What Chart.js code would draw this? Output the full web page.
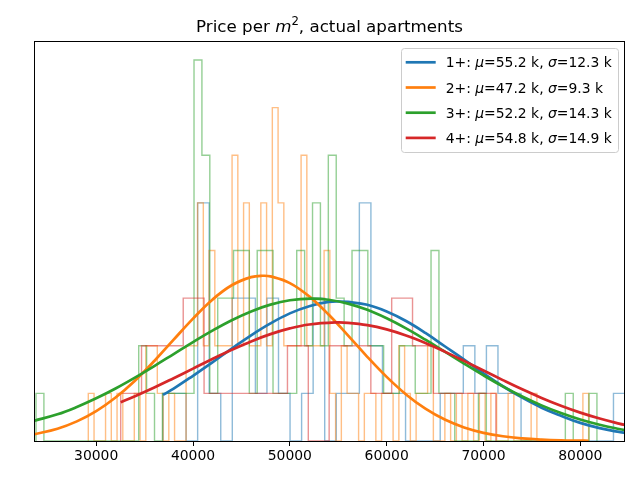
<!DOCTYPE html>
<html>
<head>
<meta charset="utf-8">
<script src="https://cdn.jsdelivr.net/npm/chart.js@4/dist/chart.umd.min.js"></script>
<style>
  html, body { margin: 0; padding: 0; background: #fff; }
</style>
</head>
<body>
<canvas id="priceChart" width="640" height="480"></canvas>
<script>
// --- data ---
const seriesNames = ['1+', '2+', '3+', '4+'];
const seriesMu = ['55.2', '47.2', '52.2', '54.8'];
const seriesSigma = ['12.3', '9.3', '14.3', '14.9'];
const seriesColors = ['#1f77b4', '#ff7f0e', '#2ca02c', '#d62728'];
const histColors = ['rgba(31,119,180,0.5)', 'rgba(255,127,14,0.5)', 'rgba(44,160,44,0.5)', 'rgba(214,39,40,0.5)'];

const xTicks = [30000, 40000, 50000, 60000, 70000, 80000];
const xMin = 23576;
const xMax = 84617;

// histograms: first bin edge, bin width, counts
const blueBinStart = 36899, blueBinWidth = 1193;
const blueCounts = [1, 1, 0, 5, 1, 0, 3, 3, 1, 3,
                    1, 0, 1, 3, 0, 1, 1, 5, 2, 1,
                    1, 0, 0, 0, 1, 1, 2, 1, 2, 1,
                    1, 0, 0, 0, 0, 0, 0, 0, 0, 1];

const orangeBinStart = 29184, orangeBinWidth = 594;
const orangeCounts = [1, 0, 0, 1, 0, 1, 0, 0, 1, 0,
                      2, 2, 1, 0, 1, 0, 0, 2, 2, 5,
                      2, 4, 2, 2, 2, 6, 2, 5, 2, 2,
                      5, 2, 7, 5, 2, 2, 2, 6, 2, 2,
                      2, 4, 1, 0, 2, 1, 1, 0, 1, 1,
                      0, 1, 1, 0, 2, 1, 0, 1, 1, 2,
                      0, 0, 1, 0, 1, 0, 1, 0, 1, 0,
                      1, 0, 0, 1, 0, 0, 0, 1, 0, 0,
                      0, 0, 0, 0, 0, 0, 1];

const greenBinStart = 23783, greenBinWidth = 816;
const greenCounts = [1, 0, 0, 0, 0, 0, 0, 0, 0, 0,
                     0, 0, 0, 2, 1, 0, 1, 1, 1, 1,
                     8, 6, 1, 3, 3, 4, 4, 1, 4, 4,
                     1, 1, 1, 4, 2, 5, 2, 6, 3, 2,
                     4, 4, 2, 2, 1, 1, 2, 2, 1, 1,
                     4, 1, 1, 0, 0, 0, 1, 0, 0, 0,
                     0, 0, 0, 0, 0, 0, 0, 1, 0, 0,
                     1];

const redBinStart = 32530, redBinWidth = 2153;
const redCounts = [1, 2, 2, 3, 1, 1, 1, 1, 2, 0, 2, 2, 1, 3, 2, 1, 1, 1];

// fitted curves, sampled along x (peak point included)
const blueCurveX = [36899, 38000, 40000, 42000, 44000, 46000, 48000, 50000, 52000, 54000, 55200, 56000, 58000, 60000,
                    62000, 64000, 66000, 68000, 70000, 72000, 74000, 76000, 78000, 80000, 82000, 84000, 85000];
const blueCurveY = [0.97, 1.10, 1.37, 1.65, 1.94, 2.22, 2.47, 2.68, 2.83, 2.92, 2.93, 2.92, 2.86, 2.72,
                    2.52, 2.27, 1.99, 1.71, 1.42, 1.15, 0.91, 0.70, 0.53, 0.38, 0.27, 0.19, 0.16];

const orangeCurveX = [23500, 26000, 28000, 30000, 32000, 34000, 36000, 38000, 40000, 42000, 44000, 46000, 47200, 48000, 50000, 52000,
                      54000, 56000, 58000, 60000, 62000, 64000, 66000, 68000, 70000, 72000, 74000, 76000, 78000, 80000, 80850];
const orangeCurveY = [0.135, 0.258, 0.412, 0.627, 0.913, 1.267, 1.680, 2.128, 2.571, 2.968, 3.270, 3.441, 3.470, 3.457, 3.316, 3.037,
                      2.656, 2.218, 1.768, 1.346, 0.978, 0.679, 0.450, 0.285, 0.172, 0.099, 0.055, 0.029, 0.014, 0.007, 0.005];

const greenCurveX = [23500, 26000, 28000, 30000, 32000, 34000, 36000, 38000, 40000, 42000, 44000, 46000, 48000, 50000, 52200,
                     54000, 56000, 58000, 60000, 62000, 64000, 66000, 68000, 70000, 72000, 74000, 76000, 78000, 80000, 82000, 84000, 85000];
const greenCurveY = [0.42, 0.56, 0.714, 0.896, 1.102, 1.330, 1.574, 1.826, 2.078, 2.318, 2.537, 2.722, 2.864, 2.955, 2.990,
                     2.966, 2.886, 2.754, 2.576, 2.364, 2.127, 1.877, 1.624, 1.378, 1.146, 0.935, 0.748, 0.587, 0.452, 0.341, 0.252, 0.215];

const redCurveX = [32530, 34000, 36000, 38000, 40000, 42000, 44000, 46000, 48000, 50000, 52000, 54800, 56000, 58000,
                   60000, 62000, 64000, 66000, 68000, 70000, 72000, 74000, 76000, 78000, 80000, 82000, 84000, 85000];
const redCurveY = [0.815, 0.940, 1.123, 1.319, 1.520, 1.722, 1.915, 2.092, 2.244, 2.364, 2.446, 2.490, 2.482, 2.433,
                   2.343, 2.216, 2.058, 1.877, 1.682, 1.480, 1.279, 1.085, 0.905, 0.741, 0.596, 0.471, 0.365, 0.319];

// --- helpers ---
// outline of a step histogram: up at the first edge, across each bin, down at the last edge
function stepOutline(start, width, counts) {
    const pts = [{ x: start, y: 0 }];
    counts.forEach((c, i) => pts.push({ x: start + i * width, y: c }));
    pts.push({ x: start + counts.length * width, y: 0 });
    return pts;
}

function zipPoints(xs, ys) {
    return xs.map((x, i) => ({ x: x, y: ys[i] }));
}

const hists = [
    stepOutline(blueBinStart, blueBinWidth, blueCounts),
    stepOutline(orangeBinStart, orangeBinWidth, orangeCounts),
    stepOutline(greenBinStart, greenBinWidth, greenCounts),
    stepOutline(redBinStart, redBinWidth, redCounts)
];
const curves = [
    zipPoints(blueCurveX, blueCurveY),
    zipPoints(orangeCurveX, orangeCurveY),
    zipPoints(greenCurveX, greenCurveY),
    zipPoints(redCurveX, redCurveY)
];

let datasets = [];
hists.forEach((pts, i) => datasets.push({
    data: pts,
    borderColor: histColors[i],
    borderWidth: 1.4,
    stepped: true,
    pointRadius: 0,
    fill: false
}));
curves.forEach((pts, i) => datasets.push({
    data: pts,
    borderColor: seriesColors[i],
    borderWidth: 2.7,
    tension: 0.4,
    pointRadius: 0,
    fill: false
}));
// chart.js paints index 0 last, so flip to get matplotlib's stacking
datasets = datasets.reverse();

const FONT = '"DejaVu Sans", sans-serif';

// draw a run of [text, italic] pieces starting at x
function drawRuns(ctx, runs, x, y, size) {
    runs.forEach(r => {
        ctx.font = (r[1] ? 'italic ' : '') + size + 'px ' + FONT;
        ctx.fillText(r[0], x, y);
        x += ctx.measureText(r[0]).width;
    });
}

// frame, legend box and title (matplotlib look)
const decorPlugin = {
    id: 'decor',
    afterDatasetsDraw(chart) {
        const { ctx, chartArea: a } = chart;
        ctx.save();
        ctx.strokeStyle = '#000';
        ctx.lineWidth = 1;
        ctx.strokeRect(a.left + 0.5, a.top + 0.5, a.right - a.left - 1, a.bottom - a.top);

        // legend
        const lx = 401.5, ly = 48.5, lw = 217, lh = 104;
        ctx.beginPath();
        ctx.roundRect(lx, ly, lw, lh, 3);
        ctx.fillStyle = 'rgba(255,255,255,0.8)';
        ctx.fill();
        ctx.strokeStyle = '#cccccc';
        ctx.stroke();

        ctx.textBaseline = 'alphabetic';
        ctx.fillStyle = '#000';
        seriesNames.forEach((name, i) => {
            const y = 62.3 + 25.2 * i;
            ctx.beginPath();
            ctx.moveTo(405.7, y);
            ctx.lineTo(435.7, y);
            ctx.strokeStyle = seriesColors[i];
            ctx.lineWidth = 2.7;
            ctx.stroke();
            drawRuns(ctx, [
                [name + ': ', false], ['\u03bc', true], ['=' + seriesMu[i] + ' k, ', false],
                ['\u03c3', true], ['=' + seriesSigma[i] + ' k', false]
            ], 445.7, y + 5, 13.9);
        });

        // title
        const size = 16.7;
        const parts = [['Price per ', false, size, 0], ['m', true, size, 0], ['2', false, 11.7, -7], [', actual apartments', false, size, 0]];
        let total = 0;
        parts.forEach(p => {
            ctx.font = (p[1] ? 'italic ' : '') + p[2] + 'px ' + FONT;
            total += ctx.measureText(p[0]).width;
        });
        let x = (a.left + a.right) / 2 - total / 2;
        parts.forEach(p => {
            ctx.font = (p[1] ? 'italic ' : '') + p[2] + 'px ' + FONT;
            ctx.fillText(p[0], x, 31.7 + p[3]);
            x += ctx.measureText(p[0]).width;
        });
        ctx.restore();
    }
};

new Chart(document.getElementById('priceChart'), {
    type: 'line',
    data: { datasets: datasets },
    options: {
        responsive: false,
        animation: false,
        events: [],
        devicePixelRatio: 1,
        layout: { padding: { left: 34, right: 15, top: 41, bottom: 0 } },
        scales: {
            x: {
                type: 'linear',
                min: xMin,
                max: xMax,
                afterBuildTicks: s => { s.ticks = xTicks.map(v => ({ value: v })); },
                afterFit: s => { s.height = 39; },
                ticks: {
                    callback: v => String(v),
                    color: '#000',
                    font: { family: 'DejaVu Sans', size: 13.9 },
                    padding: 2,
                    maxRotation: 0,
                    autoSkip: false
                },
                grid: { drawOnChartArea: false, tickLength: 5, tickColor: '#000', tickWidth: 1 },
                border: { display: false }
            },
            y: { display: false, min: 0, max: 8.4 }
        },
        plugins: { legend: { display: false }, tooltip: { enabled: false } }
    },
    plugins: [decorPlugin]
});
</script>
</body>
</html>
